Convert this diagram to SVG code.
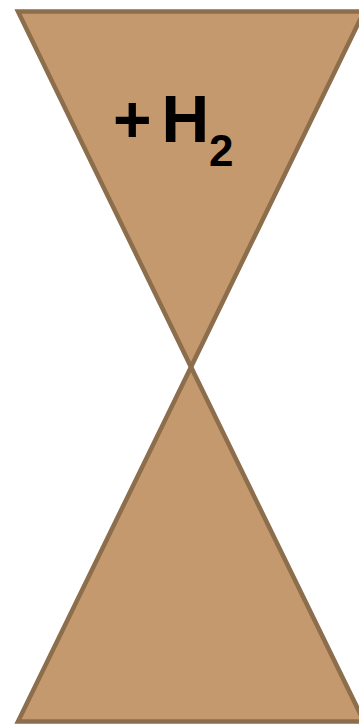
<svg xmlns="http://www.w3.org/2000/svg" width="359" height="724" viewBox="0 0 359 724">
<style>
.tri{fill:#C4996E;stroke:#8C6D4C;stroke-width:4.5;stroke-linejoin:miter}
.lbl{font-family:"Liberation Sans",Arial,sans-serif;font-weight:bold;fill:#000}
</style>
<rect width="359" height="724" fill="#fff"/>
<g id="top-triangle"><polygon class="tri" points="18,11.5 364,11.5 191,367"/></g>
<g id="bottom-triangle"><polygon class="tri" points="191,367 18,721.5 364,721.5"/></g>
<g id="label">
<text class="lbl" font-size="66" y="141.7"><tspan x="113">+</tspan><tspan x="161.5">H</tspan><tspan x="209" y="166" font-size="44">2</tspan></text>
</g>
</svg>
